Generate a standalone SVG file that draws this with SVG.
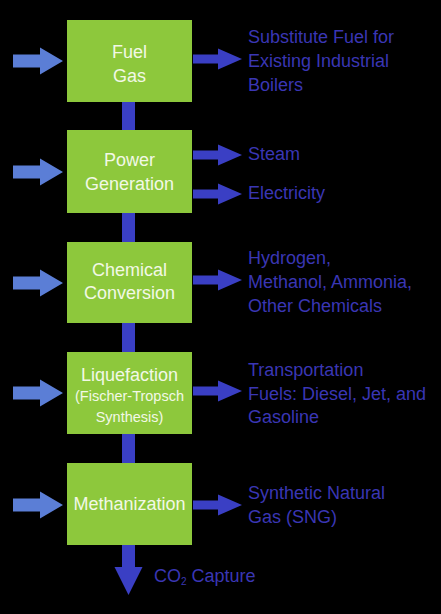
<svg xmlns="http://www.w3.org/2000/svg" width="441" height="614" viewBox="0 0 441 614">
<style>
.box{fill:#8dc83c}
.bt{font-family:"Liberation Sans",Arial,sans-serif;font-size:18px;fill:#f2f8e6;text-anchor:middle}
.bs{font-size:14.5px}
.ot{font-family:"Liberation Sans",Arial,sans-serif;font-size:18px;fill:#3a36b4}
.in{fill:#5b7ed6}
.out{fill:#3a3fc4}
</style>
<defs>
<polygon id="la" points="13,-6.5 40,-6.5 40,-13.5 63,0 40,13.5 40,6.5 13,6.5"/>
<polygon id="ra" points="193,-4.5 218,-4.5 218,-10.5 242,0 218,10.5 218,4.5 193,4.5"/>
</defs>
<rect width="441" height="614" fill="#000"/>
<g id="connectors">
<g class="in">
<use href="#la" y="61"/>
<use href="#la" y="172"/>
<use href="#la" y="283"/>
<use href="#la" y="393"/>
<use href="#la" y="505"/>
</g>
<g class="out">
<use href="#ra" y="59"/>
<use href="#ra" y="155"/>
<use href="#ra" y="194"/>
<use href="#ra" y="280"/>
<use href="#ra" y="391"/>
<use href="#ra" y="505"/>
<rect x="122" y="102" width="13" height="28"/>
<rect x="122" y="213" width="13" height="29"/>
<rect x="122" y="323" width="13" height="29"/>
<rect x="122" y="434" width="13" height="29"/>
<polygon points="122,545 135,545 135,567 142.5,567 128.5,595 114.5,567 122,567"/>
</g>
</g>
<g id="fuel-gas">
<rect class="box" x="67" y="20" width="125" height="82"/>
<text class="bt" x="129.5" y="58">Fuel</text>
<text class="bt" x="129.5" y="82">Gas</text>
</g>
<g id="power-generation">
<rect class="box" x="67" y="130" width="125" height="83"/>
<text class="bt" x="129.5" y="166">Power</text>
<text class="bt" x="129.5" y="190">Generation</text>
</g>
<g id="chemical-conversion">
<rect class="box" x="67" y="242" width="125" height="81"/>
<text class="bt" x="129.5" y="276">Chemical</text>
<text class="bt" x="129.5" y="299">Conversion</text>
</g>
<g id="liquefaction">
<rect class="box" x="67" y="352" width="125" height="82"/>
<text class="bt" x="129.5" y="381">Liquefaction</text>
<text class="bt bs" x="129.5" y="401">(Fischer-Tropsch</text>
<text class="bt bs" x="129.5" y="422">Synthesis)</text>
</g>
<g id="methanization">
<rect class="box" x="67" y="463" width="125" height="82"/>
<text class="bt" x="129.5" y="510">Methanization</text>
</g>
<g id="outputs">
<text class="ot" x="248" y="43">Substitute Fuel for</text>
<text class="ot" x="248" y="67">Existing Industrial</text>
<text class="ot" x="248" y="91">Boilers</text>
<text class="ot" x="248" y="160">Steam</text>
<text class="ot" x="248" y="199">Electricity</text>
<text class="ot" x="248" y="264">Hydrogen,</text>
<text class="ot" x="248" y="288">Methanol, Ammonia,</text>
<text class="ot" x="248" y="312">Other Chemicals</text>
<text class="ot" x="248" y="376">Transportation</text>
<text class="ot" x="248" y="400">Fuels: Diesel, Jet, and</text>
<text class="ot" x="248" y="423">Gasoline</text>
<text class="ot" x="248" y="499">Synthetic Natural</text>
<text class="ot" x="248" y="523">Gas (SNG)</text>
<text class="ot" x="154" y="582" font-size="16">CO<tspan font-size="10" dy="3">2</tspan><tspan dy="-3"> Capture</tspan></text>
</g>
</svg>
